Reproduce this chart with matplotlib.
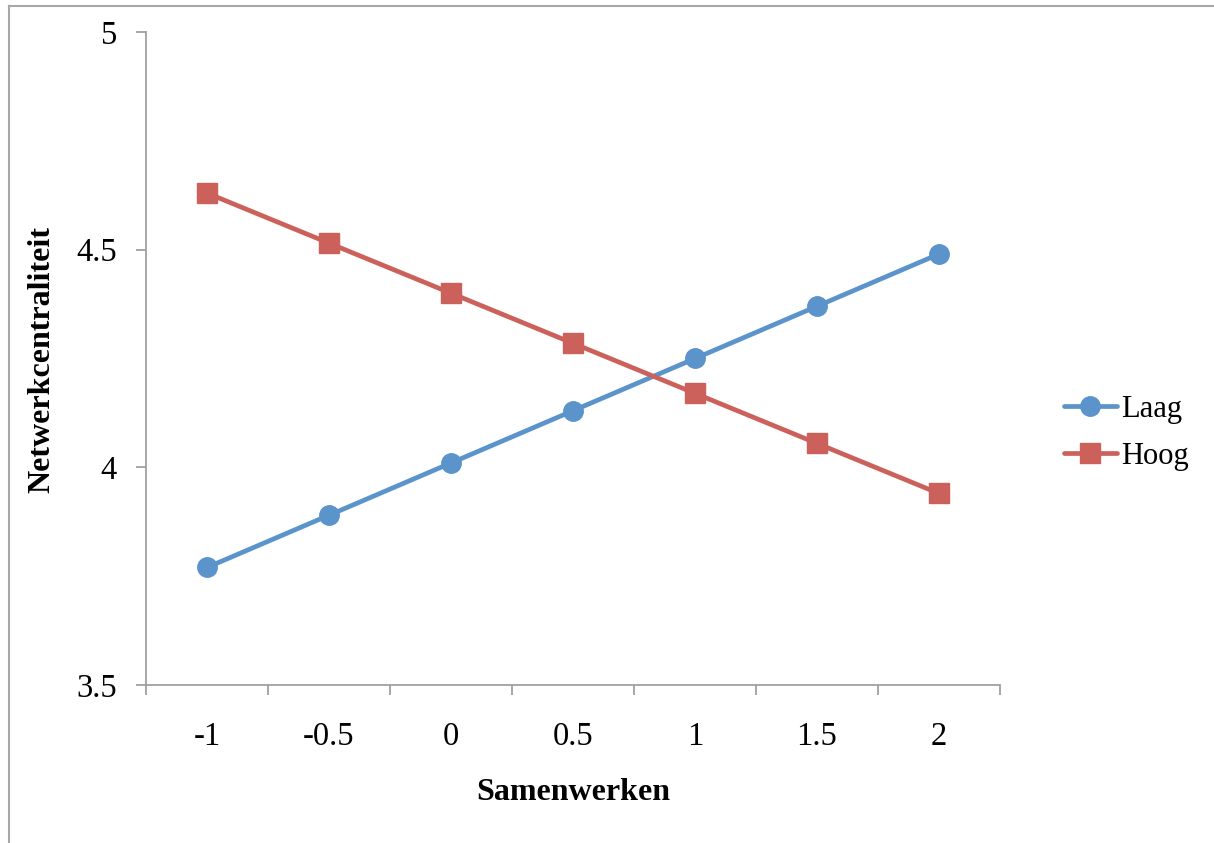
import matplotlib
matplotlib.use("Agg")
import matplotlib.pyplot as plt
from matplotlib.lines import Line2D

categories = ["-1", "-0.5", "0", "0.5", "1", "1.5", "2"]
laag = [3.77, 3.89, 4.01, 4.13, 4.25, 4.37, 4.49]
hoog = [4.63, 4.515, 4.40, 4.285, 4.17, 4.055, 3.94]
yticks = [3.5, 4.0, 4.5, 5.0]
ytick_labels = ["3.5", "4", "4.5", "5"]

W, H = 1214, 843
plt.rcParams['font.family'] = ['Liberation Serif', 'DejaVu Serif']
fig = plt.figure(figsize=(W / 100, H / 100), dpi=100)

left, right, top, bottom = 146, 1000, 32, 685
ax = fig.add_axes([left / W, 1 - bottom / H, (right - left) / W, (bottom - top) / H])

blue = '#5B93CB'
red = '#CC615C'
fs = 23.5
x = list(range(len(categories)))
ax.plot(x, laag, color=blue, lw=3.4, marker='o', ms=14, label='Laag', solid_capstyle='round')
ax.plot(x, hoog, color=red, lw=3.4, marker='s', ms=14, label='Hoog', solid_capstyle='round')

ax.set_xlim(-0.5, len(categories) - 0.5)
ax.set_ylim(3.5, 5.0)
ax.set_yticks(yticks)
ax.set_yticklabels(ytick_labels, fontsize=fs)
ax.set_xticks([i - 0.5 for i in range(len(categories) + 1)])
ax.set_xticklabels([])
ax.set_xticks(x, minor=True)
ax.set_xticklabels(categories, minor=True, fontsize=fs)
ax.tick_params(axis='x', which='minor', length=0, pad=26)
ax.tick_params(axis='x', which='major', length=7, width=1.3, color='#A0A0A0', direction='out')
ax.tick_params(axis='y', length=7, width=1.3, color='#A0A0A0', direction='out', pad=14)

for s in ['top', 'right']:
    ax.spines[s].set_visible(False)
for s in ['left', 'bottom']:
    ax.spines[s].set_color('#A0A0A0')
    ax.spines[s].set_linewidth(1.3)

fig.text(573 / W, 1 - 793 / H, 'Samenwerken', ha='center', va='center', fontsize=23, fontweight='bold')
fig.text(42 / W, 1 - 360 / H, 'Netwerkcentraliteit', ha='center', va='center', fontsize=23,
         fontweight='bold', rotation=90)

leg = ax.legend(loc='center left', bbox_to_anchor=(1036 / W, 1 - 433 / H), bbox_transform=fig.transFigure,
                frameon=False, fontsize=22, handlelength=1.75, handletextpad=0.12, labelspacing=0.6,
                borderpad=0.4)

# outer border (partially visible)
fig.add_artist(Line2D([9 / W, 1.0], [1 - 6 / H, 1 - 6 / H], transform=fig.transFigure, color='#A8A8A8', lw=1.5))
fig.add_artist(Line2D([9 / W, 9 / W], [0.0, 1 - 6 / H], transform=fig.transFigure, color='#A8A8A8', lw=1.5))

fig.savefig('out.png', dpi=100)
